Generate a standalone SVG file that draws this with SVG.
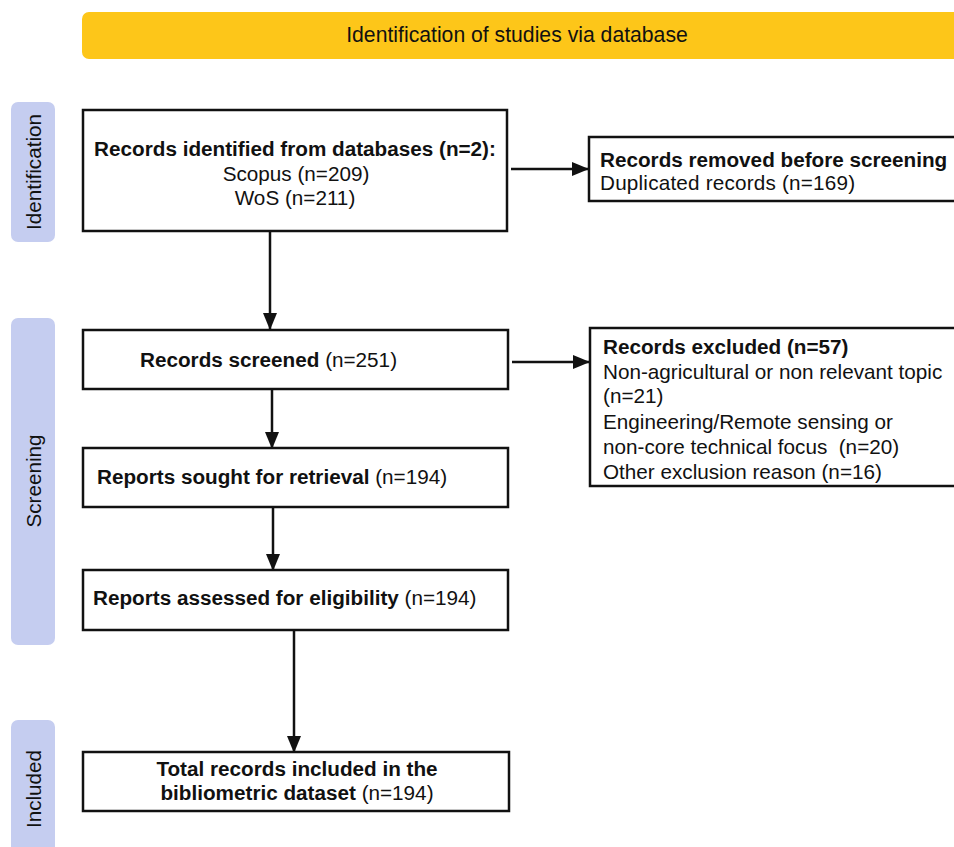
<svg xmlns="http://www.w3.org/2000/svg" width="954" height="847" viewBox="0 0 954 847">
  <style>
    .t { font-family: "Liberation Sans", Arial, sans-serif; font-size: 20.7px; fill: #111; }
    .b { font-weight: bold; }
    .box { fill: #fff; stroke: #111; stroke-width: 2.5; }
    .phase { fill: #C5CDF0; }
    .conn { stroke: #111; stroke-width: 2.5; fill: none; marker-end: url(#arr); }
  </style>
  <defs>
    <marker id="arr" markerUnits="userSpaceOnUse" markerWidth="17" markerHeight="14" refX="16" refY="7" orient="auto">
      <path d="M0,0 L17,7 L0,14 z" fill="#111"/>
    </marker>
  </defs>
  <rect width="954" height="847" fill="#fff"/>

  <g id="banner">
    <rect x="82" y="12" width="890" height="47" rx="7" fill="#FDC619"/>
    <text class="t" x="517" y="42" text-anchor="middle" style="font-size:21.2px">Identification of studies via database</text>
  </g>

  <g id="phase-identification">
    <rect class="phase" x="11" y="102" width="44" height="140" rx="7"/>
    <text class="t" transform="translate(41,172) rotate(-90)" text-anchor="middle">Identification</text>
  </g>
  <g id="phase-screening">
    <rect class="phase" x="11" y="318" width="44" height="327" rx="7"/>
    <text class="t" transform="translate(41,481) rotate(-90)" text-anchor="middle">Screening</text>
  </g>
  <g id="phase-included">
    <rect class="phase" x="11" y="720" width="44" height="140" rx="7"/>
    <text class="t" transform="translate(41,789) rotate(-90)" text-anchor="middle">Included</text>
  </g>

  <g id="connectors">
    <line class="conn" x1="270" y1="231" x2="270" y2="329"/>
    <line class="conn" x1="511" y1="169" x2="588" y2="169"/>
    <line class="conn" x1="272" y1="389" x2="272" y2="448"/>
    <line class="conn" x1="512" y1="362" x2="589" y2="362"/>
    <line class="conn" x1="273" y1="507" x2="273" y2="570"/>
    <line class="conn" x1="294" y1="630" x2="294" y2="752"/>
  </g>

  <g id="records-identified">
    <rect class="box" x="83" y="110" width="424" height="121"/>
    <text class="t b" x="295" y="156" text-anchor="middle">Records identified from databases (n=2):</text>
    <text class="t" x="296" y="181" text-anchor="middle">Scopus (n=209)</text>
    <text class="t" x="295" y="205" text-anchor="middle">WoS (n=211)</text>
  </g>

  <g id="records-removed">
    <rect class="box" x="589" y="137" width="380" height="64"/>
    <text class="t b" x="600" y="167">Records removed before screening</text>
    <text class="t" x="600" y="190" letter-spacing="0.2">Duplicated records (n=169)</text>
  </g>

  <g id="records-screened">
    <rect class="box" x="83" y="330" width="425" height="59"/>
    <text class="t" x="140" y="367"><tspan class="b">Records screened</tspan> (n=251)</text>
  </g>

  <g id="records-excluded">
    <rect class="box" x="590" y="328" width="380" height="158"/>
    <text class="t b" x="603" y="354">Records excluded (n=57)</text>
    <text class="t" x="603" y="379">Non-agricultural or non relevant topic</text>
    <text class="t" x="603" y="403">(n=21)</text>
    <text class="t" x="603" y="429">Engineering/Remote sensing or</text>
    <text class="t" x="603" y="454">non-core technical focus &#160;(n=20)</text>
    <text class="t" x="603" y="479">Other exclusion reason (n=16)</text>
  </g>

  <g id="reports-sought">
    <rect class="box" x="83" y="448" width="425" height="59"/>
    <text class="t" x="97" y="484"><tspan class="b">Reports sought for retrieval</tspan> (n=194)</text>
  </g>

  <g id="reports-assessed">
    <rect class="box" x="83" y="570" width="425" height="60"/>
    <text class="t" x="93" y="605"><tspan class="b">Reports assessed for eligibility</tspan> (n=194)</text>
  </g>

  <g id="total-included">
    <rect class="box" x="83" y="752" width="426" height="59"/>
    <text class="t b" x="297" y="776" text-anchor="middle">Total records included in the</text>
    <text class="t" x="297" y="800" text-anchor="middle"><tspan class="b">bibliometric dataset</tspan> (n=194)</text>
  </g>
</svg>
